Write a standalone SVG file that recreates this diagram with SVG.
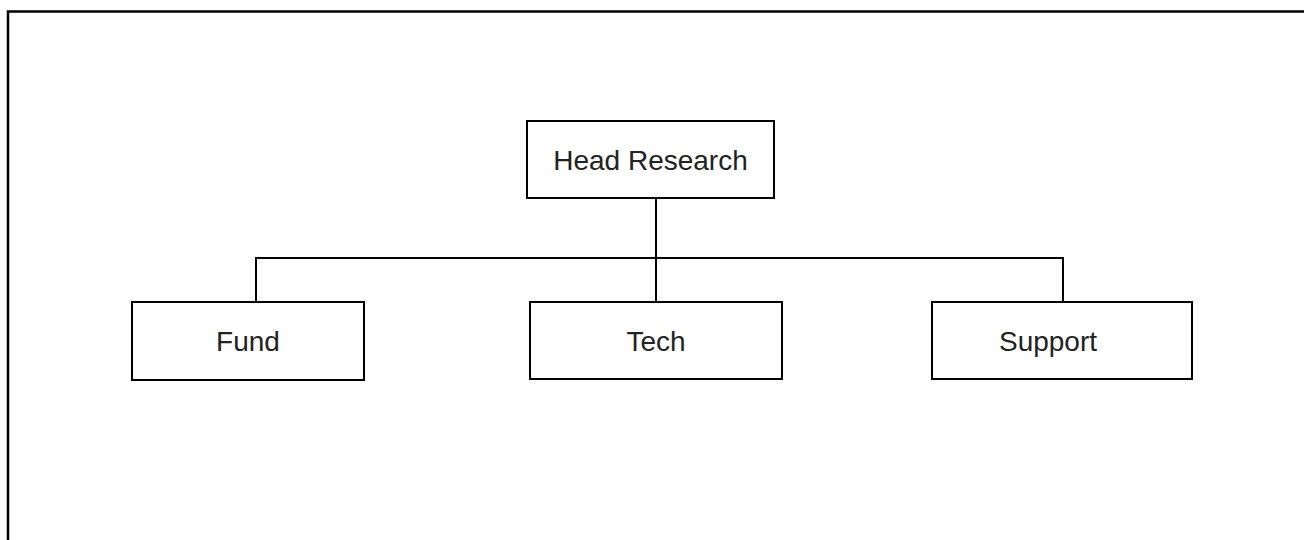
<svg xmlns="http://www.w3.org/2000/svg" width="1304" height="540" viewBox="0 0 1304 540">
<style>
.box{fill:#fff;stroke:#000;stroke-width:2}
.lbl{font-family:"Liberation Sans",Arial,sans-serif;font-size:28px;fill:#222;text-anchor:middle}
.con{fill:none;stroke:#000;stroke-width:2}
</style>
<rect width="1304" height="540" fill="#fff"/>
<path d="M8,541 V11.5 H1305" fill="none" stroke="#000" stroke-width="2.5"/>
<g id="connectors">
<path class="con" d="M656,198 V302"/>
<path class="con" d="M256,302 V258 H1063 V302"/>
</g>
<g id="head">
<rect class="box" x="527" y="121" width="247" height="77"/>
<text class="lbl" x="650.5" y="170">Head Research</text>
</g>
<g id="fund">
<rect class="box" x="132" y="302" width="232" height="78"/>
<text class="lbl" x="248" y="351">Fund</text>
</g>
<g id="tech">
<rect class="box" x="530" y="302" width="252" height="77"/>
<text class="lbl" x="656" y="351">Tech</text>
</g>
<g id="support">
<rect class="box" x="932" y="302" width="260" height="77"/>
<text class="lbl" x="1048" y="351">Support</text>
</g>
</svg>
